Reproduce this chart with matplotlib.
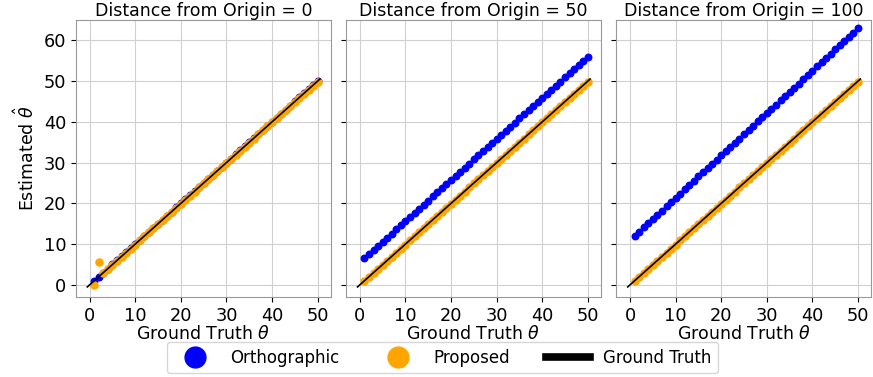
import matplotlib.pyplot as plt
from matplotlib.lines import Line2D

distances = [0, 50, 100]
theta = list(range(1, 51))
gt_line = [-0.5, 50.5]

ortho_0 = [1.0, 2.0, 3.0, 4.0, 5.0, 6.0, 7.0, 8.0, 9.0, 10.0,
           11.0, 12.0, 13.0, 14.0, 15.0, 16.0, 17.0, 18.0, 19.0, 20.0,
           21.0, 22.0, 23.0, 24.0, 25.0, 26.0, 27.0, 28.0, 29.0, 30.0,
           31.0, 32.0, 33.0, 34.0, 35.0, 36.0, 37.0, 38.0, 39.0, 40.0,
           41.0, 42.0, 43.0, 44.0, 45.0, 46.0, 47.0, 48.0, 49.0, 50.0]
ortho_50 = [6.5, 7.5, 8.5, 9.5, 10.6, 11.6, 12.6, 13.6, 14.6, 15.6,
            16.6, 17.6, 18.6, 19.6, 20.7, 21.7, 22.7, 23.7, 24.7, 25.7,
            26.7, 27.7, 28.7, 29.7, 30.8, 31.8, 32.8, 33.8, 34.8, 35.8,
            36.8, 37.8, 38.8, 39.8, 40.9, 41.9, 42.9, 43.9, 44.9, 45.9,
            46.9, 47.9, 48.9, 49.9, 51.0, 52.0, 53.0, 54.0, 55.0, 56.0]
ortho_100 = [12.0, 13.0, 14.1, 15.1, 16.2, 17.2, 18.2, 19.3, 20.3, 21.4,
             22.4, 23.4, 24.5, 25.5, 26.6, 27.6, 28.6, 29.7, 30.7, 31.8,
             32.8, 33.8, 34.9, 35.9, 37.0, 38.0, 39.0, 40.1, 41.1, 42.2,
             43.2, 44.2, 45.3, 46.3, 47.4, 48.4, 49.4, 50.5, 51.5, 52.6,
             53.6, 54.6, 55.7, 56.7, 57.8, 58.8, 59.8, 60.9, 61.9, 63.0]

prop_0 = [0.0, 5.5, 2.9, 3.9, 4.9, 5.9, 6.9, 7.9, 8.9, 9.9,
          10.9, 11.9, 12.9, 13.9, 14.9, 15.9, 16.9, 17.9, 18.9, 19.9,
          20.9, 21.9, 22.9, 23.9, 24.9, 25.9, 26.9, 27.9, 28.9, 29.9,
          30.9, 31.9, 32.9, 33.9, 34.9, 35.9, 36.9, 37.9, 38.9, 39.9,
          40.9, 41.9, 42.9, 43.9, 44.9, 45.9, 46.9, 47.9, 48.9, 49.9]
prop_50 = [0.9, 1.9, 2.9, 3.9, 4.9, 5.9, 6.9, 7.9, 8.9, 9.9,
           10.9, 11.9, 12.9, 13.9, 14.9, 15.9, 16.9, 17.9, 18.9, 19.9,
           20.9, 21.9, 22.9, 23.9, 24.9, 25.9, 26.9, 27.9, 28.9, 29.9,
           30.9, 31.9, 32.9, 33.9, 34.9, 35.9, 36.9, 37.9, 38.9, 39.9,
           40.9, 41.9, 42.9, 43.9, 44.9, 45.9, 46.9, 47.9, 48.9, 49.9]
prop_100 = prop_50

ortho = [ortho_0, ortho_50, ortho_100]
prop = [prop_0, prop_50, prop_100]

fig, axes = plt.subplots(1, 3, figsize=(8.73, 3.77), dpi=100, sharey=True)
fig.subplots_adjust(left=0.087, right=0.998, top=0.947, bottom=0.212, wspace=0.06)

for ax, d, o, p in zip(axes, distances, ortho, prop):
    ax.grid(True, color="#d0d0d0", linewidth=0.8)
    ax.set_axisbelow(True)
    ax.scatter(theta, o, s=22, color="blue", zorder=2)
    ax.scatter(theta, p, s=26, color="orange", zorder=3)
    ax.plot(gt_line, gt_line, color="black", linewidth=1.2, zorder=4)
    ax.set_title(f"Distance from Origin = {d}", fontsize=12.5, pad=3)
    ax.set_xlabel(r"Ground Truth $\theta$", fontsize=12.5, labelpad=0)
    ax.set_xticks([0, 10, 20, 30, 40, 50])
    ax.tick_params(labelsize=12.8)
    ax.set_xlim(-3.0, 52.9)
    for s in ax.spines.values():
        s.set_color("#999999")

axes[0].set_ylim(-3, 65)
axes[0].set_yticks([0, 10, 20, 30, 40, 50, 60])
axes[0].set_ylabel(r"Estimated $\hat{\theta}$", fontsize=12.5)

handles = [
    Line2D([], [], marker="o", color="blue", linestyle="none", markersize=15),
    Line2D([], [], marker="o", color="orange", linestyle="none", markersize=15),
    Line2D([], [], color="black", linewidth=5.5),
]
fig.legend(handles, ["Orthographic", "Proposed", "Ground Truth"], loc="lower center",
           ncol=3, fontsize=12, bbox_to_anchor=(0.507, -0.012), columnspacing=2.2,
           handlelength=2.6, handletextpad=0.8)

fig.savefig("out.png", dpi=100)
